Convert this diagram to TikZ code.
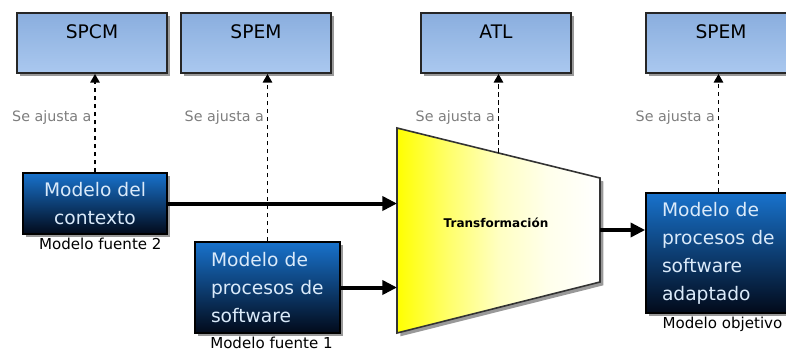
\documentclass[tikz,border=0pt]{standalone}
\usepackage{fontspec}
\setmainfont{DejaVu Sans}
\usetikzlibrary{positioning,calc,shadows,arrows.meta}

\definecolor{metaTop}{RGB}{138,174,222}
\definecolor{metaBot}{RGB}{170,200,239}
\definecolor{modTop}{RGB}{24,114,204}
\definecolor{modMid}{RGB}{12,74,150}
\definecolor{modBot}{RGB}{2,10,26}
\definecolor{modText}{RGB}{218,234,250}
\definecolor{ajGris}{RGB}{125,125,125}

\pgfdeclarehorizontalshading{transf}{100bp}{color(0bp)=(yellow); color(25bp)=(yellow);
    color(37bp)=(yellow!60); color(50bp)=(yellow!24); color(62bp)=(yellow!8);
    color(75bp)=(white); color(100bp)=(white)}

\tikzset{
    sombra/.style={
        drop shadow={shadow xshift=2.5pt,shadow yshift=-2.5pt,fill=black!50,opacity=0.8},
    },
    meta/.style={
        rectangle,
        draw=black!85,
        line width=1.4pt,
        top color=metaTop,
        bottom color=metaBot,
        minimum width=112.5pt,
        inner ysep=0pt,
        text height=19pt,
        text depth=26pt,
        font=\fontsize{14}{16}\selectfont,
        sombra,
    },
    modelo/.style={
        rectangle,
        draw=black,
        line width=1.2pt,
        top color=modTop,
        middle color=modMid,
        bottom color=modBot,
        text=modText,
        inner xsep=12pt,
        font=\fontsize{14}{21}\selectfont,
        sombra,
    },
    etiq/.style={
        inner sep=1pt,
        font=\fontsize{11.3}{13}\selectfont,
    },
    ajlabel/.style={
        inner sep=1pt,
        anchor=east,
        text=ajGris,
        font=\fontsize{10.7}{12}\selectfont,
    },
    ajuste/.style={
        line width=1.4pt,
        dash pattern=on 3.5pt off 2.5pt,
        -{Triangle[length=6.5pt,width=7pt]},
    },
    flujo/.style={
        line width=3pt,
        -{Triangle[length=11pt,width=10.5pt]},
    },
}

\begin{document}
\begin{tikzpicture}[x=0.75pt,y=-0.75pt]
        \clip (0,0) rectangle (786,354);

        \node[meta](spcm) at (92,43) {SPCM};
        \node[meta](spem1) at (256,43) {SPEM};
        \node[meta](atl) at (496,43) {ATL};
        \node[meta](spem2) at (721,43) {SPEM};

        \node[modelo,align=center,minimum width=108pt,minimum height=45.75pt](ctx) at (95,203.5) {Modelo del\\contexto};
        \node[etiq,below=1pt of ctx,xshift=4pt](f2) {Modelo fuente 2};

        \node[modelo,align=left,text width=84.75pt,minimum height=68.25pt](proc) at (267.5,287.5) {Modelo de\\procesos de\\software};
        \node[etiq,below=1pt of proc,xshift=3pt](f1) {Modelo fuente 1};

        \node[modelo,align=left,text width=84.75pt,minimum height=90pt](obj) at (718.5,253) {Modelo de\\procesos de\\software\\adaptado};
        \node[etiq,below=1pt of obj,xshift=3pt](fo) {Modelo objetivo};

        \coordinate (tl) at (397,128);
        \coordinate (tr) at (600,178);
        \coordinate (br) at (600,282);
        \coordinate (bl) at (397,333);
        \path[draw=black!80,line width=1.2pt,shading=transf,sombra]
            (tl) -- (tr) -- (br) -- (bl) -- cycle;
        \node[font=\fontsize{9}{11}\selectfont\bfseries](trans) at (496,223) {Transformación};
        \coordinate (tmid) at ($(tl)!0.5!(tr)$);
        \coordinate (tout) at ($(tr)!0.5!(br)$);

        \draw[ajuste] (ctx.north) -- (ctx.north |- spcm.south);
        \draw[ajuste] (proc.north) -- (proc.north |- spem1.south);
        \draw[ajuste] (tmid) -- (tmid |- atl.south);
        \draw[ajuste] (obj.north) -- (obj.north |- spem2.south);
        \node[ajlabel](a1) at ($(ctx.north |- spcm.south)+(-2,44)$) {Se ajusta a};
        \node[ajlabel](a2) at ($(proc.north |- spem1.south)+(-2,44)$) {Se ajusta a};
        \node[ajlabel](a3) at ($(tmid |- atl.south)+(-2,44)$) {Se ajusta a};
        \node[ajlabel](a4) at ($(obj.north |- spem2.south)+(-2,44)$) {Se ajusta a};

        \draw[flujo] (ctx.east) -- (ctx.east -| tl);
        \draw[flujo] (proc.east) -- (proc.east -| tl);
        \draw[flujo] (tout) -- (obj.west |- tout);
\end{tikzpicture}
\end{document}
